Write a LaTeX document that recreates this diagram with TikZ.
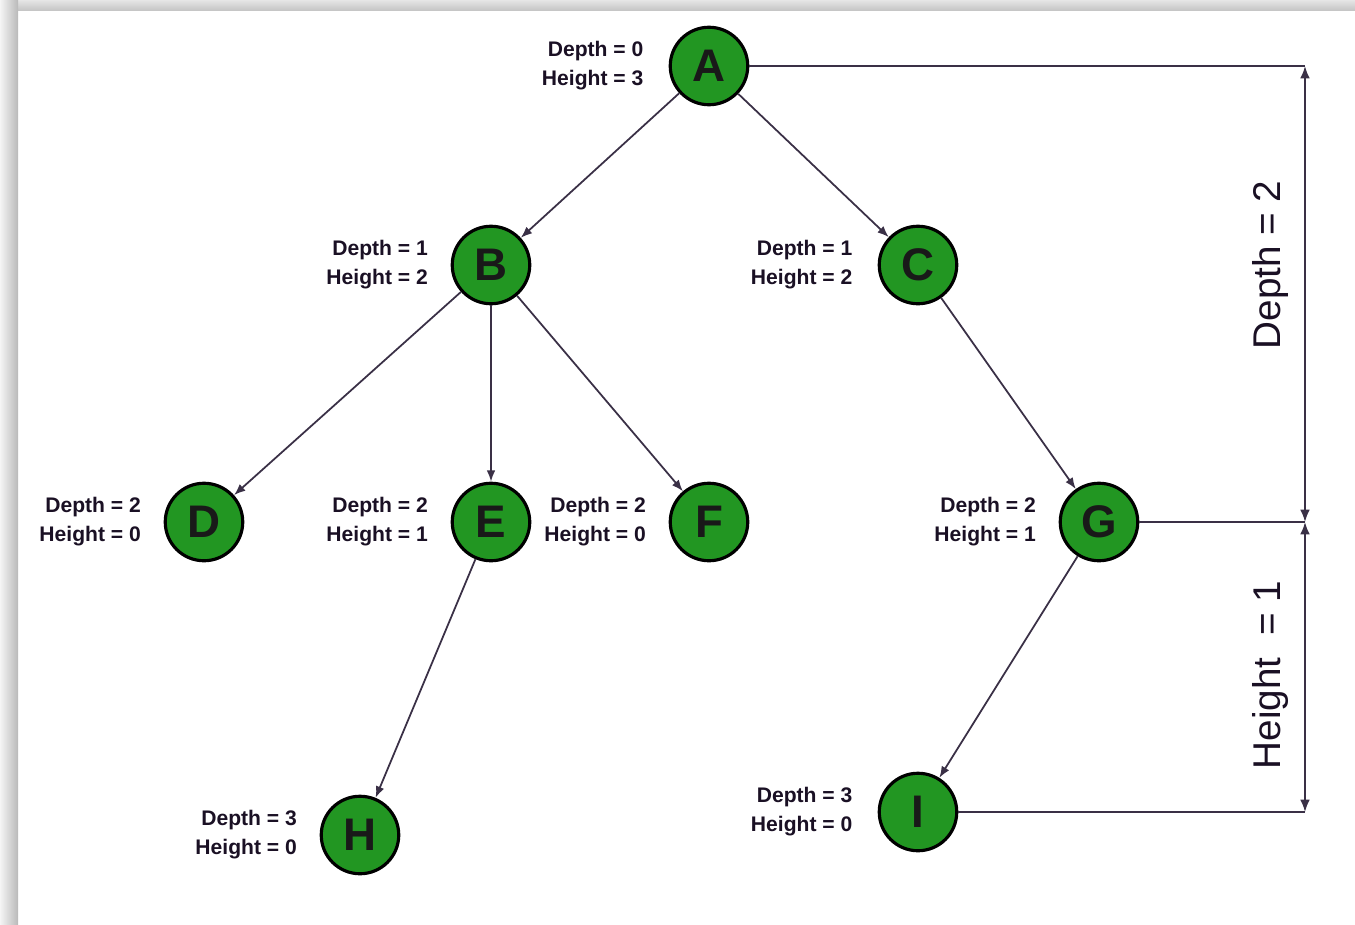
\documentclass[tikz,border=0pt]{standalone}
\usepackage{fontspec}
\setmainfont{Liberation Sans}
\usetikzlibrary{arrows.meta,positioning}

\definecolor{leafgreen}{RGB}{34,150,34}
\definecolor{linecol}{RGB}{58,48,70}
\definecolor{textcol}{RGB}{26,16,36}

\tikzset{
	treenode/.style={circle,draw=black,line width=1.8pt,fill=leafgreen,minimum size=1.55cm,inner sep=0pt,font=\fontsize{26}{26}\selectfont\bfseries,text=black!90},
	info/.style={align=right,inner sep=0pt,text=textcol,font=\fontsize{12}{16.5}\selectfont\bfseries},
	dimlabel/.style={rotate=90,text=textcol,font=\fontsize{22}{22}\selectfont}
}

\begin{document}
	\begin{tikzpicture}
		\useasboundingbox (0,0) rectangle (27.1,-18.5);
		\fill[white] (0,0) rectangle (27.1,-18.5);

		% frame shadow along the top and left
		\shade[top color=gray!20,bottom color=gray!45] (0,0) rectangle (27.1,-0.2);
		\shade[left color=gray!8,right color=gray!55] (0,0) rectangle (0.36,-18.5);

		\begin{scope}[every node/.style={treenode}]
			\node (A) at (14.18,-1.32) {A};
			\node (B) at (9.82,-5.30) {B};
			\node (C) at (18.36,-5.30) {C};
			\node (D) at (4.08,-10.44) {D};
			\node (E) at (9.82,-10.44) {E};
			\node (F) at (14.18,-10.44) {F};
			\node (G) at (21.98,-10.44) {G};
			\node (H) at (7.20,-16.70) {H};
			\node (I) at (18.36,-16.24) {I};
		\end{scope}

		\begin{scope}[every node/.style={info}]
			\node [left=0.5cm of A] (infoA) {Depth = 0\\Height = 3};
			\node [left=0.45cm of B] (infoB) {Depth = 1\\Height = 2};
			\node [left=0.5cm of C] (infoC) {Depth = 1\\Height = 2};
			\node [left=0.45cm of D] (infoD) {Depth = 2\\Height = 0};
			\node [left=0.45cm of E] (infoE) {Depth = 2\\Height = 1};
			\node [left=0.45cm of F] (infoF) {Depth = 2\\Height = 0};
			\node [left=0.45cm of G] (infoG) {Depth = 2\\Height = 1};
			\node [left=0.45cm of H] (infoH) {Depth = 3\\Height = 0};
			\node [left=0.5cm of I] (infoI) {Depth = 3\\Height = 0};
		\end{scope}

		\begin{scope}[every edge/.style={draw=linecol, line width=1pt}, >={Latex[length=6.5pt,width=5pt]}]
			\path [->] (A) edge (B);
			\path [->] (A) edge (C);
			\path [->] (B) edge (D);
			\path [->] (B) edge (E);
			\path [->] (B) edge (F);
			\path [->] (C) edge (G);
			\path [->] (E) edge (H);
			\path [->] (G) edge (I);
		\end{scope}

		% dimension lines on the right
		\coordinate (rail) at (26.1,0);
		\coordinate (railA) at (A -| rail);
		\coordinate (railG) at (G -| rail);
		\coordinate (railI) at (I -| rail);
		\begin{scope}[draw=linecol, line width=1pt, >={Latex[length=7pt,width=5.5pt]}]
			\draw (A.east) -- (railA);
			\draw (G.east) -- (railG);
			\draw (I.east) -- (railI);
			\draw [<->] (railA) -- (railG);
			\draw [<->] (railG) -- (railI);
		\end{scope}

		\node [dimlabel] (depthdim) at (25.4,-5.3) {Depth = 2};
		\node [dimlabel] (heightdim) at (25.4,-13.5) {Height\ \ = 1};

	\end{tikzpicture}
\end{document}
